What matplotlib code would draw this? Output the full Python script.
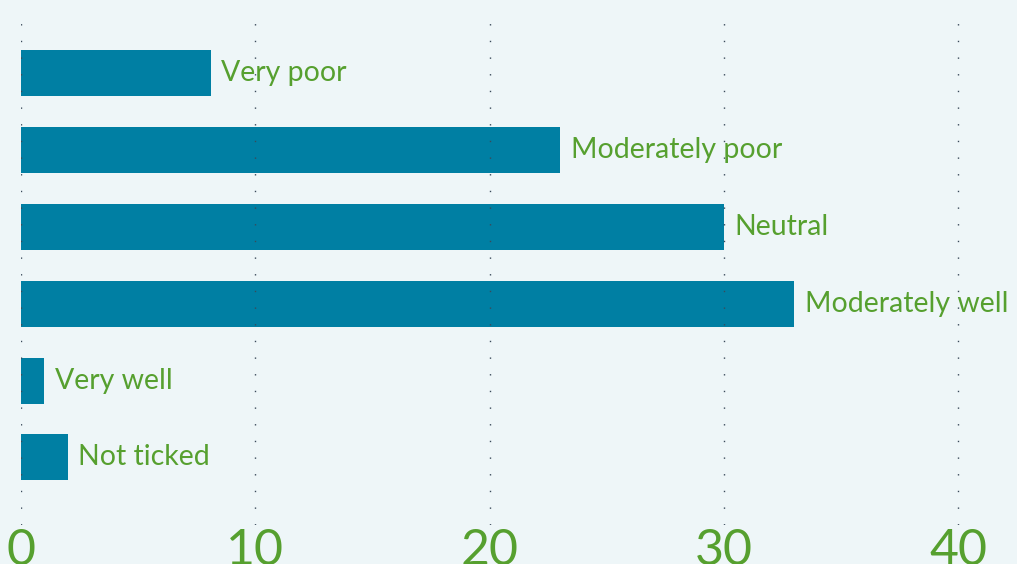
import matplotlib
matplotlib.use('Agg')
import matplotlib.pyplot as plt

# ratings and counts
categories = ['Very poor', 'Moderately poor', 'Neutral', 'Moderately well', 'Very well', 'Not ticked']
counts = [8.1, 23, 30, 33, 1, 2]
xticks = [0, 10, 20, 30, 40]

bg = '#eef6f8'
bar_color = '#007fa3'
text_color = '#56a02f'

plt.rcParams['font.family'] = ['Lato', 'DejaVu Sans']

fig = plt.figure(figsize=(10.17, 5.64), dpi=100, facecolor=bg)
ax = fig.add_axes([21 / 1017, 1 - 525 / 564, 1 - 21 / 1017, 513 / 564])
ax.set_facecolor(bg)

ypos = list(range(len(categories)))
ax.barh(ypos, counts, height=0.6, color=bar_color, zorder=2)

for y, v, name in zip(ypos, counts, categories):
    ax.text(v + 0.45, y, name, va='center', ha='left', fontsize=20.5, color=text_color, zorder=4)

ax.set_xlim(0, 42.5)
ax.set_ylim(5.88, -0.8)
ax.set_xticks(xticks)
ax.set_xticklabels([str(t) for t in xticks], fontsize=36, color=text_color)
ax.set_yticks([])
ax.tick_params(axis='x', length=0, pad=2)
ax.xaxis.grid(True, color='#3a4a5a', linestyle=(0, (1, 11)), linewidth=1, zorder=3)
ax.set_axisbelow(False)
for s in ax.spines.values():
    s.set_visible(False)

fig.savefig('out.png', dpi=100, facecolor=bg)
